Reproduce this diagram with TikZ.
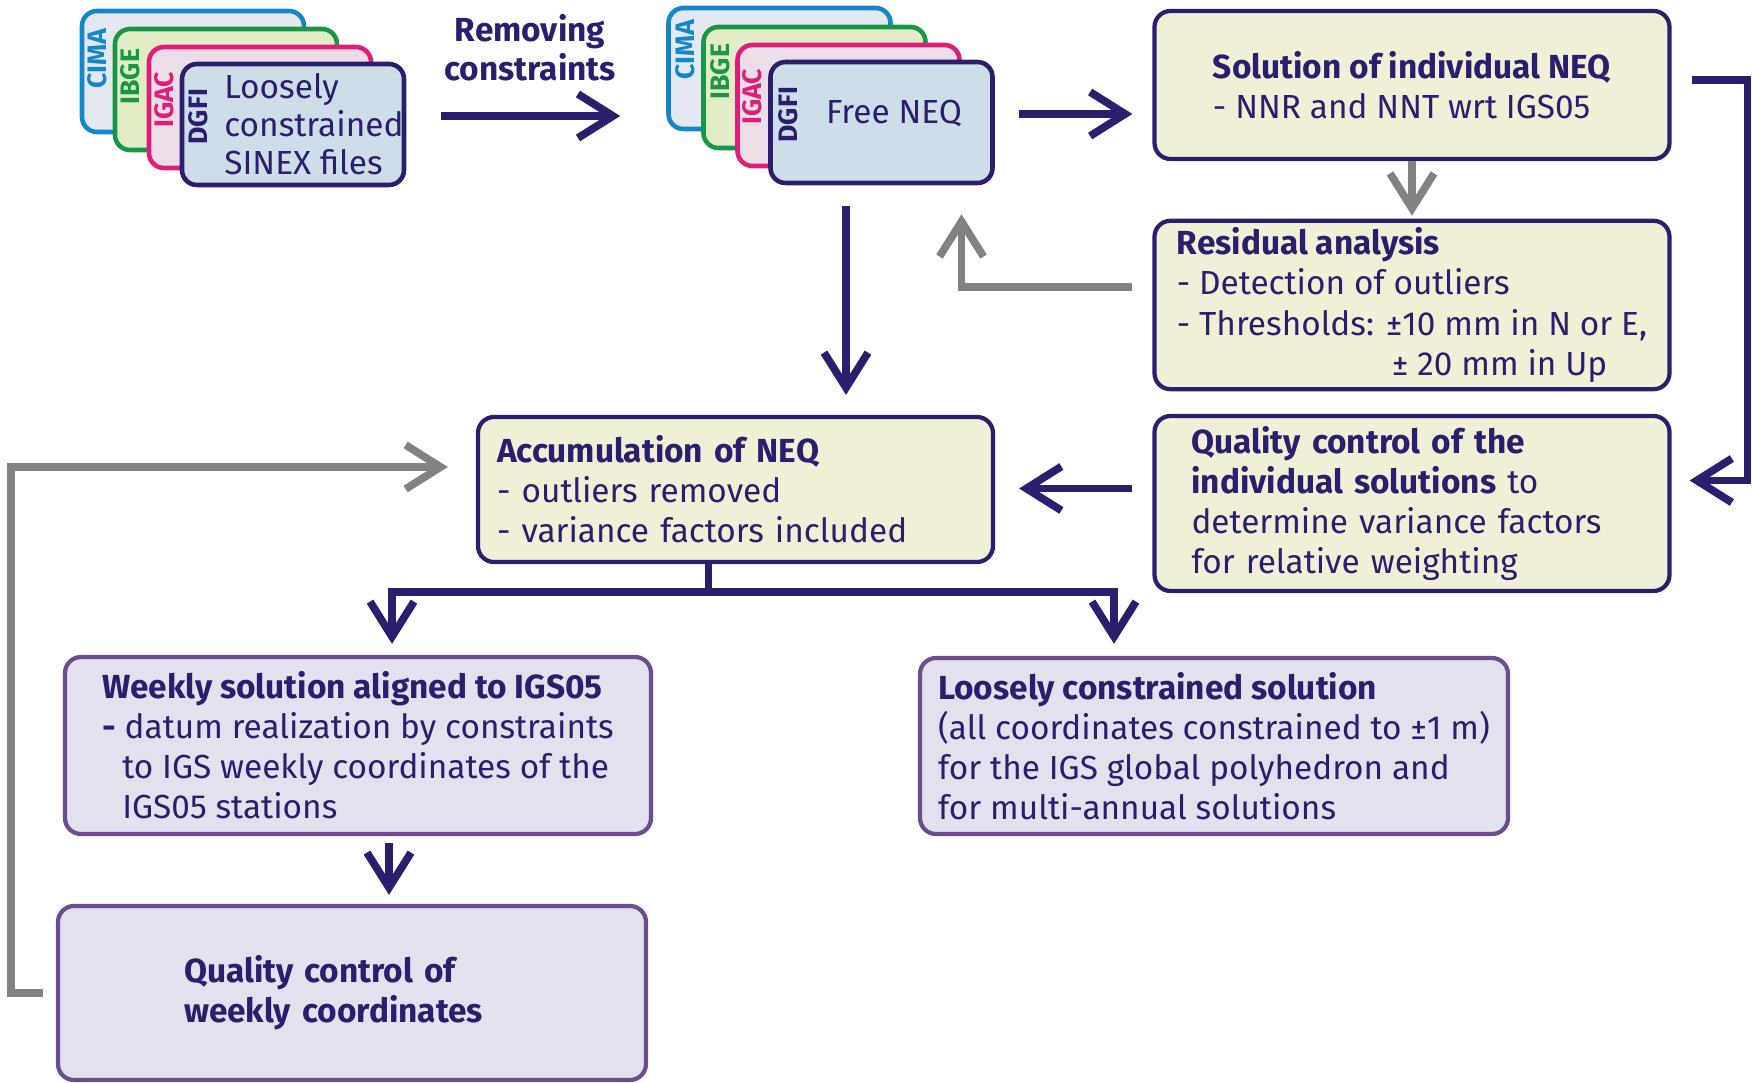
\documentclass[tikz,border=0pt]{standalone}
\usepackage{fontspec}
\setmainfont{Fira Sans}
\usetikzlibrary{arrows.meta}

\definecolor{ink}{RGB}{43,30,110}
\definecolor{boxfill}{RGB}{241,240,214}
\definecolor{frame}{RGB}{108,78,142}
\definecolor{resultfill}{RGB}{227,225,237}
\definecolor{arrowgray}{RGB}{130,130,130}
\definecolor{cimablue}{RGB}{20,135,200}
\definecolor{cimafill}{RGB}{228,232,241}
\definecolor{ibgegreen}{RGB}{25,150,70}
\definecolor{ibgefill}{RGB}{226,236,198}
\definecolor{igacpink}{RGB}{222,30,120}
\definecolor{igacfill}{RGB}{236,222,232}
\definecolor{dgfifill}{RGB}{205,222,233}

\begin{document}
\begin{tikzpicture}[
    box/.style={draw=ink, fill=boxfill, line width=1.2pt, rounded corners=1.6mm, align=left, text=ink, inner xsep=0pt, inner ysep=2pt, font=\fontsize{9.5}{11.4}\selectfont},
    result/.style={box, draw=frame, fill=resultfill},
    card/.style={rounded corners=1.5mm, line width=1.3pt, minimum width=2.22cm, minimum height=1.21cm, inner sep=0pt},
    tag/.style={rotate=90, font=\fontsize{7.6}{8}\selectfont\bfseries},
    cardtext/.style={text=ink, align=left, font=\fontsize{9.5}{10.8}\selectfont},
    flow/.style={draw=ink, line width=2.2pt, -{Straight Barb[length=3.5mm, width=4.4mm]}},
    back/.style={flow, draw=arrowgray},
]
    \useasboundingbox (0,0) rectangle (17.52,-10.83);

    \node[card, draw=cimablue, fill=cimafill] (cimaA) at (1.93,-0.715) {};
    \node[card, draw=ibgegreen, fill=ibgefill] (ibgeA) at (2.26,-0.895) {};
    \node[card, draw=igacpink, fill=igacfill] (igacA) at (2.60,-1.075) {};
    \node[card, draw=ink, fill=dgfifill] (dgfiA) at (2.93,-1.245) {};
    \node[tag, text=cimablue] at ([shift={(0.18,-0.5)}]cimaA.north west) {CIMA};
    \node[tag, text=ibgegreen] at ([shift={(0.18,-0.5)}]ibgeA.north west) {IBGE};
    \node[tag, text=igacpink] at ([shift={(0.18,-0.55)}]igacA.north west) {IGAC};
    \node[tag, text=ink] at ([shift={(0.19,-0.55)}]dgfiA.north west) {DGFI};
    \node[cardtext, anchor=west, inner sep=0pt] (sinex) at ([xshift=4.4mm]dgfiA.west) {Loosely\\constrained\\SINEX files};

    \node[card, draw=cimablue, fill=cimafill] (cimaB) at (7.795,-0.685) {};
    \node[card, draw=ibgegreen, fill=ibgefill] (ibgeB) at (8.145,-0.875) {};
    \node[card, draw=igacpink, fill=igacfill] (igacB) at (8.485,-1.055) {};
    \node[card, draw=ink, fill=dgfifill] (dgfiB) at (8.815,-1.225) {};
    \node[tag, text=cimablue] at ([shift={(0.19,-0.44)}]cimaB.north west) {CIMA};
    \node[tag, text=ibgegreen] at ([shift={(0.19,-0.47)}]ibgeB.north west) {IBGE};
    \node[tag, text=igacpink] at ([shift={(0.17,-0.54)}]igacB.north west) {IGAC};
    \node[tag, text=ink] at ([shift={(0.2,-0.55)}]dgfiB.north west) {DGFI};
    \node[cardtext] (freeneq) at ([xshift=1.25mm, yshift=0.85mm]dgfiB.center) {Free NEQ};

    \node[cardtext, align=center, font=\fontsize{9.5}{11.2}\selectfont\bfseries] (removing) at (5.30,-0.48) {Removing\\constraints};

    \node[box, minimum width=5.15cm, minimum height=1.48cm] (solve) at (14.12,-0.85)
        {\textbf{Solution of individual NEQ}\\- NNR and NNT wrt IGS05};
    \node[box, minimum width=5.15cm, minimum height=1.68cm] (resid) at (14.12,-3.05)
        {\textbf{Residual analysis}\\- Detection of outliers\\- Thresholds: ±10 mm in N or E,\\\hspace*{2.15cm}± 20 mm in Up};
    \node[box, minimum width=5.15cm, minimum height=1.75cm, text width=4.41cm] (qcind) at (14.12,-5.035)
        {\textbf{Quality control of the}\\\textbf{individual solutions} to\\determine variance factors\\for relative weighting};
    \node[box, minimum width=5.15cm, minimum height=1.45cm, text width=4.77cm] (accum) at (7.355,-4.895)
        {\textbf{Accumulation of NEQ}\\- outliers removed\\- variance factors included};
    \node[result, minimum width=5.86cm, minimum height=1.77cm] (weekly) at (3.58,-7.455)
        {\textbf{Weekly solution aligned to IGS05}\\\textbf{-} datum realization by constraints\\\hspace*{2mm}to IGS weekly coordinates of the\\\hspace*{2mm}IGS05 stations};
    \node[result, minimum width=5.88cm, minimum height=1.76cm] (loose) at (12.14,-7.46)
        {\textbf{Loosely constrained solution}\\(all coordinates constrained to ±1 m)\\for the IGS global polyhedron and\\for multi-annual solutions};
    \node[result, minimum width=5.88cm, minimum height=1.74cm, text width=3.36cm] (qcweek) at (3.52,-9.93)
        {\textbf{Quality control of}\\\textbf{weekly coordinates}};

    \coordinate (split) at ([xshift=-2.7mm, yshift=-2.8mm]accum.south);

    \draw[flow, shorten <=3.5mm, shorten >=4.6mm] ([yshift=0.85mm]dgfiA.east) -- ([yshift=0.85mm]dgfiA.east -| cimaB.west);
    \draw[flow, shorten <=2.4mm, shorten >=2mm] ([yshift=0.85mm]dgfiB.east) -- ([yshift=0.85mm]dgfiB.east -| solve.west);
    \draw[back, shorten >=0.3mm] (solve) -- (resid);
    \draw[back, shorten <=2mm, shorten >=2.9mm] ([yshift=1.8mm]resid.west) -| ([xshift=8mm]dgfiB.south);
    \draw[flow, shorten <=2mm, shorten >=1.8mm] ([yshift=0.5mm]solve.east) -- ++(0.76,0) |- ([yshift=2.3mm]qcind.east);
    \draw[flow, shorten <=2mm, shorten >=2.4mm] ([yshift=1.5mm]qcind.west) -- ([yshift=1.5mm]qcind.west -| accum.east);
    \draw[flow, shorten <=2.1mm, shorten >=2mm] ([xshift=-3.55mm]dgfiB.south) -- ([xshift=-3.55mm]dgfiB.south |- accum.north);
    \draw[draw=ink, line width=2.2pt] ([xshift=-2.7mm]accum.south) -- (split);
    \draw[flow, shorten >=1.1mm] (split) -| ([xshift=3.4mm]weekly.north);
    \draw[flow, shorten >=1.2mm] (split) -| ([xshift=-10mm]loose.north);
    \draw[flow, shorten <=0.7mm, shorten >=0.9mm] ([xshift=3.1mm]weekly.south) -- ([xshift=3.1mm]weekly.south |- qcweek.north);
    \draw[back, shorten <=1.3mm, shorten >=2.8mm] (qcweek.west) -- ++(-0.45,0) |- ([yshift=2.25mm]accum.west);
\end{tikzpicture}
\end{document}
